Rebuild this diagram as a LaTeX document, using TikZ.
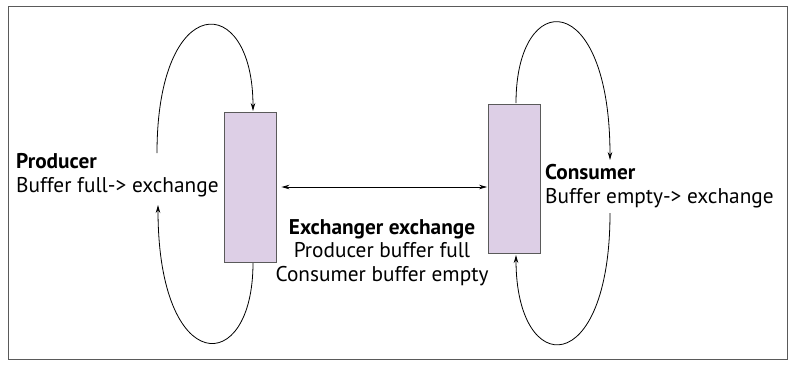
\documentclass[tikz,border=0pt]{standalone}
\usepackage{fontspec}
\setmainfont{PT Sans}
\usetikzlibrary{arrows.meta}
\definecolor{framegray}{RGB}{90,90,90}
\definecolor{bufferfill}{RGB}{221,207,230}
\tikzset{
  buffer/.style={draw=framegray, fill=bufferfill, line width=0.9pt, minimum width=52pt, inner sep=0pt},
  loop/.style={line width=0.8pt, -{Stealth[length=8pt,width=4.5pt]}},
  link/.style={line width=0.8pt, {Stealth[length=8pt,width=4.5pt]}-{Stealth[length=8pt,width=4.5pt]}},
  label/.style={inner sep=0pt, font=\fontsize{21.3}{23.5}\selectfont},
}
\begin{document}
\begin{tikzpicture}[x=1pt,y=-1pt]
  \useasboundingbox (0,0) rectangle (795,368);
  % outer frame
  \draw[framegray, line width=1pt] (8,6) rectangle (787,359);

  % the two buffers
  \node[buffer, minimum height=150pt] (lbuf) at (250,187) {};
  \node[buffer, minimum height=149pt] (rbuf) at (514.5,178.5) {};

  % texts (anchored on the baseline of their last line)
  \node[label, align=left, anchor=base west] (prod) at (16,192)
    {\textbf{Producer}\\Buffer full-> exchange};
  \node[label, align=center, anchor=base] (exch) at (382,281)
    {\textbf{Exchanger exchange}\\Producer buffer full\\Consumer buffer empty};
  \node[label, align=left, anchor=base west] (cons) at (545,203)
    {\textbf{Consumer}\\Buffer empty-> exchange};

  % loop end points
  \coordinate (lt0) at (157,153);
  \coordinate (lt1) at (253,111);
  \coordinate (lb0) at (253,263);
  \coordinate (lb1) at (158,205);
  \coordinate (rt0) at (516,103);
  \coordinate (rt1) at (610,160);
  \coordinate (rb0) at (610,213);
  \coordinate (rb1) at (516,255);

  % producer loop
  \draw[loop] (lt0) .. controls (157,-10) and (253,-10) .. (lt1);
  \draw[loop] (lb0) .. controls (253,378) and (158,378) .. (lb1);
  % consumer loop
  \draw[loop] (rt0) .. controls (516,-13) and (610,-13) .. (rt1);
  \draw[loop] (rb0) .. controls (610,380) and (516,380) .. (rb1);

  % exchange between the buffers
  \draw[link] ([xshift=5pt]lbuf.east |- 0,187) -- ([xshift=-1pt]rbuf.west |- 0,187);
\end{tikzpicture}
\end{document}
